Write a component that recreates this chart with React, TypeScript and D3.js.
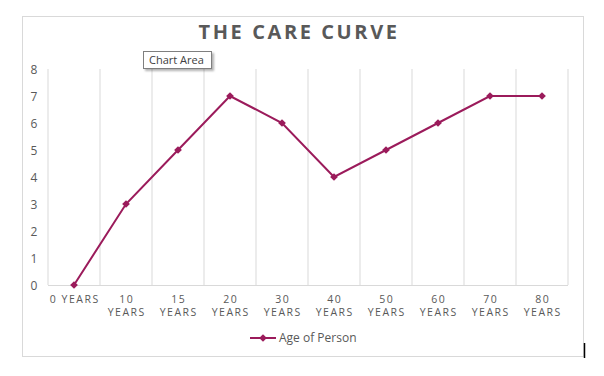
import React from "react";
import * as d3 from "d3";

const categories = ["0 YEARS", "10 YEARS", "15 YEARS", "20 YEARS", "30 YEARS", "40 YEARS", "50 YEARS", "60 YEARS", "70 YEARS", "80 YEARS"];
const values = [0, 3, 5, 7, 6, 4, 5, 6, 7, 7];
const yTicks = [0, 1, 2, 3, 4, 5, 6, 7, 8];
const seriesName = "Age of Person";
const title = "THE CARE CURVE";

const W = 604, H = 376;
const plot = { left: 48, right: 568, top: 69, bottom: 285 };
const color = "#9B1B5B";
const font = "'Open Sans', 'DejaVu Sans', sans-serif";

export default function App() {
  const x = d3.scaleBand().domain(categories).range([plot.left, plot.right]);
  const y = d3.scaleLinear().domain([0, 8]).range([plot.bottom, plot.top]);
  const cxOf = (i: number) => (x(categories[i]) as number) + x.bandwidth() / 2;
  const line = d3.line<number>().x((_, i) => cxOf(i)).y((d) => y(d));
  const marker = d3.symbol().type(d3.symbolSquare).size(30)();
  const bounds = [...categories.map((c) => x(c) as number), plot.right];

  return (
    <svg width={W} height={H} style={{ position: "absolute", left: 0, top: 0, background: "#fff" }}>
      <defs>
        <filter id="sh" x="-10%" y="-10%" width="130%" height="150%">
          <feDropShadow dx="2" dy="2" stdDeviation="1" floodColor="#000" floodOpacity="0.3" />
        </filter>
      </defs>
      <rect x={22.5} y={16.5} width={561} height={340} fill="#fff" stroke="#d9d9d9" />
      <text x={299} y={39} textAnchor="middle" fontFamily={font} fontWeight={700} fontSize={20} letterSpacing={2.6} fill="#595959">{title}</text>
      {bounds.map((b, i) => (
        <line key={i} x1={b} x2={b} y1={plot.top} y2={plot.bottom} stroke="#d9d9d9" strokeWidth={1} />
      ))}
      <line x1={plot.left} x2={plot.right} y1={plot.bottom + 0.5} y2={plot.bottom + 0.5} stroke="#d9d9d9" />
      {yTicks.map((t) => (
        <text key={t} x={34} y={y(t) + 4.5} textAnchor="middle" fontFamily={font} fontSize={12} fill="#595959">{t}</text>
      ))}
      {categories.map((c, i) => {
        const parts = i === 0 ? [c] : c.split(" ");
        return (
          <text key={c} textAnchor="middle" fontFamily={font} fontSize={10.5} letterSpacing={1.5} fill="#595959">
            {parts.map((p, j) => (
              <tspan key={j} x={cxOf(i) + 0.75} y={303 + j * 13}>{p}</tspan>
            ))}
          </text>
        );
      })}
      <path d={line(values) || ""} fill="none" stroke={color} strokeWidth={2} />
      {values.map((v, i) => (
        <path key={i} d={marker || ""} transform={`translate(${cxOf(i)},${y(v)}) rotate(45)`} fill={color} />
      ))}
      <line x1={250} x2={276} y1={338} y2={338} stroke={color} strokeWidth={2} />
      <path d={marker || ""} transform="translate(263,338) rotate(45)" fill={color} />
      <text x={279} y={342} fontFamily={font} fontSize={12} fill="#595959">{seriesName}</text>
      <g filter="url(#sh)">
        <rect x={143.5} y={51.5} width={68} height={17} fill="#fff" stroke="#7f7f7f" />
      </g>
      <text x={149} y={64} fontFamily={font} fontSize={11} fill="#404040">Chart Area</text>
      <line x1={584.5} x2={584.5} y1={343} y2={358} stroke="#000" strokeWidth={1.5} />
    </svg>
  );
}
